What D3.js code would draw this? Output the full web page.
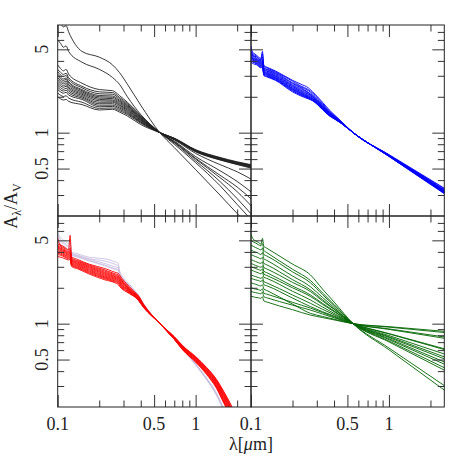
<!DOCTYPE html>
<html lang="en">
<head>
<meta charset="utf-8">
<title>Extinction curves</title>
<script src="https://cdn.jsdelivr.net/npm/d3@7"></script>
<style>
  body { margin: 0; background: #fff; }
  text { font-family: "Liberation Serif", "DejaVu Serif", serif; fill: #222; }
</style>
</head>
<body>
<script>
// wavelength grids (micron) and A_lambda/A_V values

var blackLambda = [0.1, 0.105, 0.11, 0.115, 0.12, 0.15, 0.2, 0.25, 0.28, 0.32, 0.4, 0.55, 0.7, 1.0, 1.5, 2.0, 2.6];
var blackCurves = [
  [9.2, 8.3, 7.7, 7.9, 7.0, 4.8, 4.3, 3.7, 3.2, 2.55, 1.7, 1.0, 0.75, 0.49, 0.30, 0.21, 0.155],
  [6.0, 5.6, 5.2, 5.35, 4.8, 3.9, 3.4, 2.9, 2.55, 2.0, 1.42, 1.0, 0.80, 0.56, 0.36, 0.25, 0.18],
  [3.7, 3.45, 3.3, 3.4, 3.1, 2.6, 2.3, 2.25, 2.05, 1.8, 1.4, 1.0, 0.82, 0.58, 0.39, 0.28, 0.2],
  [3.4, 3.2, 3.08, 3.15, 2.9, 2.45, 2.2, 2.17, 1.98, 1.76, 1.38, 1.0, 0.83, 0.6, 0.42, 0.32, 0.235],
  [3.25, 3.05, 2.95, 3.02, 2.8, 2.38, 2.12, 2.1, 1.93, 1.72, 1.36, 1.0, 0.84, 0.61, 0.44, 0.35, 0.27],
  [3.1, 2.92, 2.82, 2.88, 2.68, 2.3, 2.05, 2.03, 1.88, 1.69, 1.34, 1.0, 0.85, 0.63, 0.48, 0.39, 0.31],
  [3.0, 2.83, 2.74, 2.8, 2.61, 2.25, 2.0, 1.98, 1.84, 1.66, 1.33, 1.0, 0.87, 0.67, 0.54, 0.47, 0.4],
  [2.9, 2.74, 2.65, 2.71, 2.53, 2.2, 1.95, 1.93, 1.8, 1.63, 1.31, 1.0, 0.885, 0.70, 0.60, 0.55, 0.515],
  [2.8, 2.65, 2.57, 2.62, 2.45, 2.15, 1.9, 1.88, 1.76, 1.6, 1.3, 1.0, 0.89, 0.705, 0.605, 0.555, 0.52],
  [2.7, 2.56, 2.48, 2.53, 2.38, 2.1, 1.85, 1.84, 1.72, 1.57, 1.28, 1.0, 0.89, 0.71, 0.61, 0.56, 0.525],
  [2.6, 2.47, 2.4, 2.45, 2.31, 2.05, 1.8, 1.8, 1.69, 1.54, 1.27, 1.0, 0.895, 0.715, 0.615, 0.565, 0.53],
  [2.5, 2.38, 2.31, 2.36, 2.23, 2.0, 1.75, 1.75, 1.65, 1.51, 1.25, 1.0, 0.9, 0.72, 0.62, 0.57, 0.535],
  [2.4, 2.29, 2.23, 2.27, 2.15, 1.95, 1.7, 1.7, 1.61, 1.48, 1.23, 1.0, 0.885, 0.695, 0.595, 0.545, 0.505],
  [2.3, 2.2, 2.14, 2.18, 2.07, 1.9, 1.65, 1.66, 1.57, 1.45, 1.22, 1.0, 0.88, 0.69, 0.59, 0.54, 0.5],
  [2.15, 2.06, 2.01, 2.04, 1.95, 1.8, 1.6, 1.61, 1.53, 1.42, 1.2, 1.0, 0.89, 0.70, 0.595, 0.545, 0.51],
  [2.0, 1.92, 1.88, 1.9, 1.83, 1.72, 1.55, 1.57, 1.49, 1.38, 1.17, 1.0, 0.895, 0.71, 0.61, 0.56, 0.525]
];

var blueLambda = [0.1, 0.103, 0.106, 0.11, 0.118, 0.121, 0.124, 0.13, 0.15, 0.2, 0.23, 0.26, 0.28, 0.33, 0.37, 0.4, 0.45, 0.55, 1.0, 2.6];
var blueCurves = [
  [5.3, 4.7, 4.6, 4.45, 4.2, 4.8, 3.65, 3.55, 3.3, 2.75, 2.55, 2.38, 2.2, 1.8, 1.55, 1.42, 1.25, 1.0, 0.655, 0.335],
  [5.0, 4.6, 4.5, 4.35, 4.1, 4.6, 3.6, 3.5, 3.25, 2.7, 2.46, 2.3, 2.15, 1.76, 1.52, 1.4, 1.24, 1.0, 0.65, 0.33],
  [4.9, 4.5, 4.4, 4.3, 4.05, 4.3, 3.5, 3.42, 3.2, 2.62, 2.42, 2.25, 2.1, 1.72, 1.5, 1.38, 1.23, 1.0, 0.65, 0.325],
  [4.7, 4.45, 4.35, 4.2, 4.0, 4.1, 3.45, 3.38, 3.15, 2.58, 2.38, 2.18, 2.05, 1.7, 1.48, 1.37, 1.23, 1.0, 0.648, 0.32],
  [4.6, 4.4, 4.3, 4.15, 3.95, 4.0, 3.4, 3.32, 3.1, 2.52, 2.33, 2.16, 2.02, 1.68, 1.47, 1.36, 1.22, 1.0, 0.645, 0.32],
  [4.5, 4.3, 4.2, 4.1, 3.9, 3.95, 3.35, 3.28, 3.05, 2.48, 2.28, 2.12, 2.0, 1.66, 1.46, 1.35, 1.22, 1.0, 0.645, 0.318],
  [4.45, 4.25, 4.15, 4.05, 3.85, 3.9, 3.3, 3.22, 3.0, 2.44, 2.24, 2.09, 1.98, 1.65, 1.45, 1.34, 1.22, 1.0, 0.642, 0.315],
  [4.4, 4.2, 4.1, 4.0, 3.8, 3.85, 3.25, 3.18, 2.96, 2.4, 2.2, 2.05, 1.95, 1.63, 1.44, 1.34, 1.21, 1.0, 0.64, 0.313],
  [4.3, 4.15, 4.05, 3.95, 3.75, 3.8, 3.2, 3.14, 2.92, 2.36, 2.17, 2.03, 1.93, 1.62, 1.43, 1.33, 1.21, 1.0, 0.64, 0.31],
  [4.25, 4.1, 4.0, 3.9, 3.7, 3.75, 3.18, 3.1, 2.88, 2.33, 2.14, 2.0, 1.91, 1.6, 1.42, 1.33, 1.21, 1.0, 0.638, 0.31],
  [4.2, 4.05, 3.95, 3.85, 3.65, 3.7, 3.15, 3.06, 2.85, 2.3, 2.11, 1.98, 1.89, 1.59, 1.41, 1.32, 1.2, 1.0, 0.636, 0.308],
  [4.1, 4.0, 3.9, 3.8, 3.6, 3.65, 3.1, 3.02, 2.82, 2.27, 2.09, 1.96, 1.87, 1.58, 1.4, 1.32, 1.2, 1.0, 0.635, 0.305],
  [4.0, 3.9, 3.85, 3.75, 3.55, 3.6, 3.05, 2.98, 2.78, 2.24, 2.06, 1.94, 1.86, 1.57, 1.39, 1.31, 1.2, 1.0, 0.633, 0.303],
  [3.9, 3.8, 3.75, 3.7, 3.5, 3.55, 3.0, 2.94, 2.75, 2.2, 2.03, 1.92, 1.85, 1.56, 1.38, 1.31, 1.2, 1.0, 0.632, 0.3]
];

var redLambda = [0.1, 0.104, 0.108, 0.113, 0.12, 0.123, 0.126, 0.14, 0.17, 0.22, 0.26, 0.275, 0.28, 0.33, 0.37, 0.38, 0.42, 0.55, 0.7, 0.81, 1.0, 1.2, 1.42, 1.6, 1.8, 2.0];
var lavenderCurves = [
  [5.9, 5.3, 5.1, 4.9, 4.7, 5.0, 4.0, 3.85, 3.6, 3.5, 3.3, 3.2, 2.8, 2.15, 1.85, 1.78, 1.47, 1.0, 0.75, 0.61, 0.45, 0.34, 0.25, 0.185, 0.135, 0.1],
  [5.6, 5.1, 4.9, 4.7, 4.5, 4.8, 3.9, 3.75, 3.5, 3.35, 3.15, 3.05, 2.72, 2.1, 1.82, 1.76, 1.46, 1.0, 0.752, 0.612, 0.452, 0.342, 0.252, 0.188, 0.138, 0.1],
  [5.3, 4.9, 4.75, 4.6, 4.4, 4.6, 3.85, 3.7, 3.45, 3.2, 3.0, 2.95, 2.65, 2.07, 1.8, 1.74, 1.45, 1.0, 0.755, 0.615, 0.455, 0.345, 0.255, 0.19, 0.14, 0.1],
  [5.0, 4.7, 4.55, 4.4, 4.25, 4.45, 3.8, 3.65, 3.4, 3.1, 2.9, 2.85, 2.58, 2.04, 1.79, 1.73, 1.45, 1.0, 0.758, 0.618, 0.458, 0.348, 0.258, 0.192, 0.142, 0.1],
  [4.8, 4.55, 4.4, 4.3, 4.15, 4.3, 3.77, 3.6, 3.35, 3.05, 2.85, 2.8, 2.52, 2.02, 1.78, 1.72, 1.44, 1.0, 0.76, 0.62, 0.46, 0.35, 0.26, 0.195, 0.145, 0.1]
];
var redCurves = [
  [5.2, 4.6, 4.5, 4.35, 4.15, 5.5, 3.65, 3.45, 3.15, 2.9, 2.7, 2.64, 2.56, 2.05, 1.8, 1.75, 1.45, 1.0, 0.78, 0.65, 0.53, 0.43, 0.34, 0.27, 0.21, 0.16],
  [4.7, 4.55, 4.4, 4.25, 4.05, 4.3, 3.55, 3.38, 3.1, 2.82, 2.62, 2.56, 2.48, 2.0, 1.77, 1.72, 1.44, 1.0, 0.775, 0.645, 0.525, 0.425, 0.335, 0.265, 0.205, 0.155],
  [4.6, 4.45, 4.3, 4.15, 3.98, 4.1, 3.48, 3.32, 3.05, 2.76, 2.57, 2.5, 2.43, 1.98, 1.76, 1.71, 1.43, 1.0, 0.77, 0.64, 0.52, 0.42, 0.33, 0.26, 0.2, 0.152],
  [4.5, 4.35, 4.22, 4.08, 3.92, 4.0, 3.42, 3.27, 3.0, 2.7, 2.52, 2.46, 2.39, 1.95, 1.74, 1.69, 1.42, 1.0, 0.765, 0.635, 0.515, 0.415, 0.325, 0.255, 0.195, 0.148],
  [4.4, 4.28, 4.15, 4.02, 3.86, 3.95, 3.37, 3.22, 2.95, 2.65, 2.48, 2.42, 2.35, 1.93, 1.72, 1.67, 1.41, 1.0, 0.76, 0.63, 0.51, 0.41, 0.32, 0.25, 0.19, 0.145],
  [4.3, 4.2, 4.08, 3.95, 3.8, 3.88, 3.32, 3.17, 2.9, 2.6, 2.44, 2.38, 2.31, 1.91, 1.71, 1.66, 1.4, 1.0, 0.755, 0.625, 0.505, 0.405, 0.315, 0.245, 0.186, 0.142],
  [4.2, 4.12, 4.0, 3.88, 3.74, 3.82, 3.27, 3.12, 2.85, 2.55, 2.4, 2.34, 2.27, 1.89, 1.7, 1.65, 1.4, 1.0, 0.75, 0.62, 0.5, 0.4, 0.31, 0.24, 0.182, 0.139],
  [4.1, 4.02, 3.92, 3.8, 3.68, 3.75, 3.22, 3.07, 2.8, 2.5, 2.36, 2.3, 2.23, 1.87, 1.68, 1.63, 1.39, 1.0, 0.748, 0.615, 0.495, 0.395, 0.305, 0.235, 0.178, 0.135],
  [4.0, 3.94, 3.85, 3.74, 3.62, 3.68, 3.17, 3.02, 2.75, 2.46, 2.32, 2.26, 2.19, 1.85, 1.67, 1.62, 1.38, 1.0, 0.745, 0.61, 0.49, 0.39, 0.30, 0.23, 0.175, 0.132],
  [3.9, 3.85, 3.77, 3.67, 3.56, 3.62, 3.12, 2.97, 2.7, 2.42, 2.28, 2.22, 2.15, 1.83, 1.66, 1.61, 1.38, 1.0, 0.742, 0.605, 0.485, 0.385, 0.295, 0.225, 0.17, 0.13],
  [3.8, 3.76, 3.7, 3.6, 3.5, 3.55, 3.08, 2.93, 2.65, 2.38, 2.24, 2.18, 2.11, 1.81, 1.65, 1.6, 1.37, 1.0, 0.74, 0.6, 0.48, 0.38, 0.29, 0.22, 0.168, 0.128],
  [3.65, 3.62, 3.58, 3.5, 3.42, 3.46, 3.02, 2.88, 2.6, 2.33, 2.2, 2.12, 2.06, 1.79, 1.64, 1.59, 1.36, 1.0, 0.738, 0.598, 0.475, 0.375, 0.285, 0.215, 0.165, 0.125]
];

var greenLambda = [0.1, 0.104, 0.108, 0.113, 0.118, 0.121, 0.124, 0.13, 0.2, 0.27, 0.33, 0.4, 0.55, 1.0, 2.6];
var greenCurves = [
  [5.6, 5.1, 4.95, 4.8, 4.65, 5.2, 4.45, 4.3, 3.16, 2.56, 1.95, 1.52, 1.0, 0.604, 0.27],
  [5.0, 4.85, 4.75, 4.6, 4.5, 4.7, 4.1, 3.95, 2.86, 2.3, 1.81, 1.45, 1.0, 0.625, 0.295],
  [4.55, 4.45, 4.35, 4.25, 4.15, 4.3, 3.8, 3.7, 2.72, 2.2, 1.75, 1.42, 1.0, 0.703, 0.40],
  [4.15, 4.05, 3.98, 3.9, 3.8, 3.95, 3.5, 3.4, 2.51, 2.04, 1.66, 1.37, 1.0, 0.716, 0.42],
  [3.8, 3.72, 3.65, 3.58, 3.5, 3.6, 3.2, 3.12, 2.34, 1.92, 1.59, 1.33, 1.0, 0.735, 0.45],
  [3.45, 3.38, 3.32, 3.25, 3.2, 3.3, 2.95, 2.88, 2.22, 1.86, 1.55, 1.32, 1.0, 0.748, 0.47],
  [3.2, 3.14, 3.08, 3.02, 2.97, 3.05, 2.75, 2.68, 2.07, 1.74, 1.48, 1.28, 1.0, 0.766, 0.5],
  [3.0, 2.95, 2.9, 2.85, 2.8, 2.88, 2.6, 2.54, 2.0, 1.69, 1.45, 1.26, 1.0, 0.778, 0.52],
  [2.82, 2.77, 2.72, 2.67, 2.62, 2.7, 2.45, 2.4, 1.87, 1.58, 1.38, 1.22, 1.0, 0.795, 0.55],
  [2.56, 2.52, 2.48, 2.44, 2.4, 2.46, 2.25, 2.2, 1.74, 1.48, 1.32, 1.19, 1.0, 0.821, 0.6],
  [2.4, 2.36, 2.33, 2.3, 2.26, 2.32, 2.12, 2.08, 1.64, 1.39, 1.26, 1.16, 1.0, 0.826, 0.61],
  [2.0, 1.97, 1.95, 1.93, 1.9, 1.96, 1.8, 1.77, 1.51, 1.35, 1.24, 1.14, 1.0, 0.895, 0.75],
  [1.86, 1.84, 1.82, 1.8, 1.78, 1.84, 1.68, 1.65, 1.43, 1.3, 1.205, 1.12, 1.0, 0.904, 0.77],
  [1.7, 1.68, 1.66, 1.65, 1.63, 1.68, 1.55, 1.52, 1.31, 1.18, 1.125, 1.076, 1.0, 0.944, 0.86],
  [2.2, 2.17, 2.14, 2.1, 2.07, 2.12, 1.95, 1.9, 1.46, 1.22, 1.15, 1.09, 1.0, 0.935, 0.84]
];

// ticks and labels
var xTickMajor = [0.1, 0.5, 1];
var xTickMinor = [0.2, 0.3, 0.4, 0.6, 0.7, 0.8, 0.9, 2];
var yTickMajor = [0.5, 1, 5];
var yTickMinor = [0.3, 0.4, 0.6, 0.7, 0.8, 0.9, 2, 3, 4, 6, 7];
var xTickLabels = ["0.1", "0.5", "1"];
var yTickLabels = ["0.5", "1", "5"];

var w = 469, h = 469;
var xEdges = [57.7, 251, 444.3];
var yEdges = [25, 216, 407];
var majorLen = 12, minorLen = 6.5;
var labelSize = "18px";

var svg = d3.select("body").append("svg")
  .attr("width", w)
  .attr("height", h);

var panels = [
  {col: 0, row: 0, sets: [{rows: blackCurves, lambda: blackLambda, color: "#222"}]},
  {col: 1, row: 0, sets: [{rows: blueCurves, lambda: blueLambda, color: "#0000ff"}]},
  {col: 0, row: 1, sets: [{rows: lavenderCurves, lambda: redLambda, color: "#cbc0e0"},
                          {rows: redCurves, lambda: redLambda, color: "#ff0000"}]},
  {col: 1, row: 1, sets: [{rows: greenCurves, lambda: greenLambda, color: "#006400"}]}
];

panels.forEach(function(p, i) {
  var x0 = xEdges[p.col], x1 = xEdges[p.col + 1];
  var y0 = yEdges[p.row], y1 = yEdges[p.row + 1];

  var x = d3.scaleLog().domain([0.1, 2.52]).range([x0, x1]);
  var y = d3.scaleLog().domain([0.2, 8]).range([y1, y0]);

  svg.append("clipPath").attr("id", "clip" + i)
    .append("rect")
    .attr("x", x0).attr("y", y0)
    .attr("width", x1 - x0).attr("height", y1 - y0);

  var g = svg.append("g").attr("clip-path", "url(#clip" + i + ")");

  p.sets.forEach(function(s) {
    var line = d3.line()
      .x(function(d, k) { return x(s.lambda[k]); })
      .y(function(d) { return y(d); })
      .curve(d3.curveMonotoneX);
    g.selectAll(null)
      .data(s.rows)
      .enter()
      .append("path")
      .attr("d", line)
      .attr("fill", "none")
      .attr("stroke", s.color)
      .attr("stroke-width", 0.9);
  });

  // inward ticks on all four sides
  var tickSets = [[xTickMajor, yTickMajor, majorLen], [xTickMinor, yTickMinor, minorLen]];
  tickSets.forEach(function(t) {
    var axes = [
      [d3.axisBottom(x).tickValues(t[0]), "translate(0," + y1 + ")"],
      [d3.axisTop(x).tickValues(t[0]), "translate(0," + y0 + ")"],
      [d3.axisLeft(y).tickValues(t[1]), "translate(" + x0 + ",0)"],
      [d3.axisRight(y).tickValues(t[1]), "translate(" + x1 + ",0)"]
    ];
    axes.forEach(function(a) {
      var ax = svg.append("g")
        .attr("transform", a[1])
        .call(a[0].tickSize(-t[2]).tickFormat(""));
      ax.select(".domain").remove();
      ax.selectAll("line").attr("stroke", "#333").attr("stroke-width", 1);
    });
  });

  svg.append("rect")
    .attr("x", x0).attr("y", y0)
    .attr("width", x1 - x0).attr("height", y1 - y0)
    .attr("fill", "none")
    .attr("stroke", "#222")
    .attr("stroke-width", 1);

  // tick labels
  if (p.row === 1) {
    svg.selectAll(null)
      .data(xTickMajor)
      .enter()
      .append("text")
      .attr("x", function(d) { return x(d); })
      .attr("y", 430)
      .attr("text-anchor", "middle")
      .attr("font-size", labelSize)
      .text(function(d, k) { return xTickLabels[k]; });
  }
  if (p.col === 0) {
    svg.selectAll(null)
      .data(yTickMajor)
      .enter()
      .append("text")
      .attr("transform", function(d) { return "translate(42," + y(d) + ") rotate(-90)"; })
      .attr("text-anchor", "middle")
      .attr("dy", "0.35em")
      .attr("font-size", labelSize)
      .text(function(d, k) { return yTickLabels[k]; });
  }
});

// axis titles
var xt = svg.append("text")
  .attr("x", 251)
  .attr("y", 450)
  .attr("text-anchor", "middle")
  .attr("font-size", labelSize);
xt.append("tspan").text("λ[");
xt.append("tspan").attr("font-style", "italic").text("μ");
xt.append("tspan").text("m]");

var yt = svg.append("text")
  .attr("transform", "translate(17,206) rotate(-90)")
  .attr("text-anchor", "middle")
  .attr("font-size", labelSize);
yt.append("tspan").text("A");
yt.append("tspan").attr("font-size", "12px").attr("dy", 4).text("λ");
yt.append("tspan").attr("dy", -4).text("/A");
yt.append("tspan").attr("font-size", "12px").attr("dy", 4).text("V");
</script>
</body>
</html>
